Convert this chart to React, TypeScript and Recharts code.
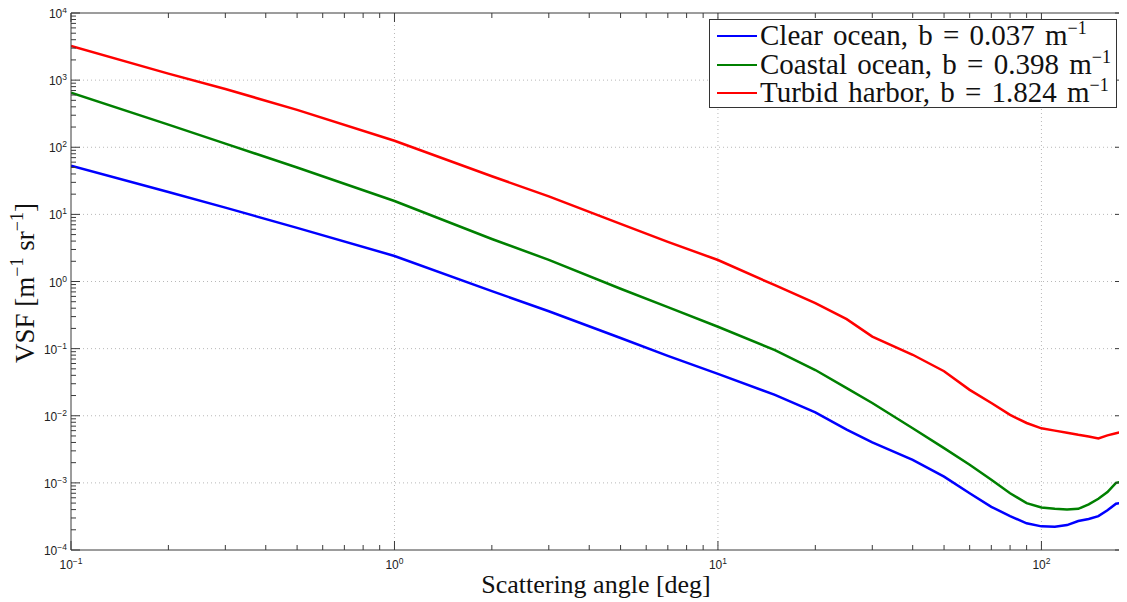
import React from 'react';
import { LineChart, Line, XAxis, YAxis, ReferenceLine, Legend } from 'recharts';

// Scattering angle [deg]
const angles = [0.1, 0.2, 0.3, 0.5, 1, 2, 3, 5, 7, 10, 15, 20, 25, 30, 40, 50, 60, 70, 80, 90, 100, 110, 120, 130, 140, 150, 160, 170, 180];
// VSF [m^-1 sr^-1]
const clearOcean = [53, 21.5, 12.6, 6.3, 2.4, 0.72, 0.36, 0.144, 0.078, 0.042, 0.0205, 0.0112, 0.0062, 0.004, 0.0022, 0.00124, 0.0007, 0.00044, 0.00032, 0.00025, 0.000225, 0.000222, 0.000235, 0.00027, 0.00029, 0.00032, 0.00039, 0.00049, 0.00051];
const coastalOcean = [650, 217, 113, 50, 15.8, 4.3, 2.1, 0.78, 0.415, 0.212, 0.095, 0.048, 0.0258, 0.0155, 0.0065, 0.0033, 0.00186, 0.00111, 0.0007, 0.0005, 0.00043, 0.00041, 0.0004, 0.00041, 0.00048, 0.00058, 0.00073, 0.001, 0.00105];
const turbidHarbor = [3220, 1250, 738, 360, 125, 37, 18.5, 7.2, 3.9, 2.09, 0.88, 0.476, 0.275, 0.151, 0.081, 0.046, 0.0243, 0.0155, 0.0103, 0.0078, 0.0065, 0.006, 0.0056, 0.0052, 0.0049, 0.0046, 0.0051, 0.0055, 0.0058];

const seriesNames = ['Clear ocean, b = 0.037 m', 'Coastal ocean, b = 0.398 m', 'Turbid harbor, b = 1.824 m'];
const seriesKeys = ['clear', 'coastal', 'turbid'];
const seriesColors = ['#0000ff', '#008000', '#ff0000'];

const xMajor = [0.1, 1, 10, 100];
const xMajorExp = ['\u22121', '0', '1', '2'];
const xMinor = [0.2, 0.3, 0.4, 0.5, 0.6, 0.7, 0.8, 0.9, 2, 3, 4, 5, 6, 7, 8, 9, 20, 30, 40, 50, 60, 70, 80, 90];
const yMajor = [1e-4, 1e-3, 1e-2, 1e-1, 1, 10, 100, 1000, 10000];
const yMajorExp = ['\u22124', '\u22123', '\u22122', '\u22121', '0', '1', '2', '3', '4'];
const mantissas = [2, 3, 4, 5, 6, 7, 8, 9];
const yDecades = [1e-4, 1e-3, 1e-2, 1e-1, 1, 10, 100, 1000];
const yMinor = yDecades.flatMap((d) => mantissas.map((m) => m * d));

const data = angles.map((a, i) => ({
  angle: a,
  clear: clearOcean[i],
  coastal: coastalOcean[i],
  turbid: turbidHarbor[i],
}));

const W = 1119;
const H = 594;
const XH = 30;
const YW = 30;
const M = { top: 5, right: 3, bottom: 52 - XH, left: 63 - YW };
const PL = 63;
const PT = 5;
const PR = W - 3;
const PB = H - 52;
const AX = '#3a3a3a';
const TICK_FONT = '"Liberation Sans", Arial, sans-serif';
const SERIF = '"Liberation Serif", "Times New Roman", serif';

const isMajor = (arr: number[], v: number) => arr.findIndex((m) => Math.abs(m - v) / m < 1e-6);

const XTick = (props: any) => {
  const { x, payload } = props;
  const v = payload.value;
  const mi = isMajor(xMajor, v);
  const len = mi >= 0 ? 9 : 5;
  return (
    <g>
      <line x1={x} x2={x} y1={PB} y2={PB - len} stroke={AX} strokeWidth={1} />
      <line x1={x} x2={x} y1={PT} y2={PT + len} stroke={AX} strokeWidth={1} />
      {mi >= 0 && (
        <text x={x} y={PB + 19} textAnchor="middle" fontFamily={TICK_FONT} fontSize={12} fill="#222">
          10
          <tspan dy={-5} fontSize={8.5}>{xMajorExp[mi]}</tspan>
        </text>
      )}
    </g>
  );
};

const YTick = (props: any) => {
  const { y, payload } = props;
  const v = payload.value;
  const mi = isMajor(yMajor, v);
  const len = mi >= 0 ? 9 : 5;
  return (
    <g>
      <line x1={PL} x2={PL + len} y1={y} y2={y} stroke={AX} strokeWidth={1} />
      <line x1={PR} x2={PR - len} y1={y} y2={y} stroke={AX} strokeWidth={1} />
      {mi >= 0 && (
        <text x={PL - 4} y={y + 5} textAnchor="end" fontFamily={TICK_FONT} fontSize={12} fill="#222">
          10
          <tspan dy={-5} fontSize={8.5}>{yMajorExp[mi]}</tspan>
        </text>
      )}
    </g>
  );
};

const supStyle: React.CSSProperties = { fontSize: 18, verticalAlign: 0, position: 'relative', top: -11, lineHeight: 0 };

const LegendBox = () => (
  <div
    style={{
      position: 'relative',
      width: 406,
      height: 87,
      border: '1px solid #333',
      background: '#fff',
      fontFamily: SERIF,
      fontSize: 29,
      color: '#111',
    }}
  >
    {seriesNames.map((name, i) => (
      <div
        key={name}
        style={{ position: 'absolute', left: 0, top: 1 + i * 28.5, height: 28, lineHeight: '28px', whiteSpace: 'nowrap' }}
      >
        <span
          style={{
            position: 'absolute',
            left: 7,
            top: 14,
            width: 40,
            height: 2,
            background: seriesColors[i],
          }}
        />
        <span style={{ position: 'absolute', left: 50, top: 0, wordSpacing: 3 }}>
          {name}
          <sup style={supStyle}>{'\u22121'}</sup>
        </span>
      </div>
    ))}
  </div>
);

export default function App() {
  return (
    <div style={{ position: 'relative', width: W, height: H }}>
      <LineChart width={W} height={H} data={data} margin={M} style={{ overflow: 'visible' }}>
        <XAxis
          dataKey="angle"
          type="number"
          scale="log"
          domain={[0.1, 180]}
          allowDataOverflow
          ticks={[...xMajor, ...xMinor]}
          interval={0}
          height={XH}
          axisLine={{ stroke: AX, strokeWidth: 1 }}
          tickLine={false}
          tick={<XTick />}
        />
        <YAxis
          type="number"
          scale="log"
          domain={[1e-4, 1e4]}
          allowDataOverflow
          ticks={[...yMajor, ...yMinor]}
          interval={0}
          width={YW}
          axisLine={{ stroke: AX, strokeWidth: 1 }}
          tickLine={false}
          tick={<YTick />}
        />
        {xMajor.slice(1).map((v) => (
          <ReferenceLine key={'gx' + v} x={v} stroke="#b8b8b8" strokeDasharray="1 3" />
        ))}
        {yMajor.slice(1, -1).map((v) => (
          <ReferenceLine key={'gy' + v} y={v} stroke="#b8b8b8" strokeDasharray="1 3" />
        ))}
        <ReferenceLine y={1e4} stroke={AX} ifOverflow="visible" />
        <ReferenceLine x={180} stroke={AX} ifOverflow="visible" />
        {seriesKeys.map((k, i) => (
          <Line
            key={k}
            type="linear"
            dataKey={k}
            name={seriesNames[i]}
            stroke={seriesColors[i]}
            strokeWidth={2.5}
            dot={false}
            isAnimationActive={false}
          />
        ))}
        <Legend
          layout="horizontal"
          verticalAlign="middle"
          align="center"
          wrapperStyle={{ left: 701, top: 11, width: 408, height: 89 }}
          content={() => <LegendBox />}
        />
      </LineChart>
      <div
        style={{
          position: 'absolute',
          left: 388,
          top: 562,
          width: 400,
          textAlign: 'center',
          fontFamily: SERIF,
          fontSize: 26,
          lineHeight: '30px',
          color: '#111',
        }}
      >
        Scattering angle [deg]
      </div>
      <div
        style={{
          position: 'absolute',
          left: 17 - 150,
          top: 275 - 15,
          width: 300,
          height: 30,
          textAlign: 'center',
          fontFamily: SERIF,
          fontSize: 27,
          lineHeight: '30px',
          color: '#111',
          transform: 'rotate(-90deg)',
          whiteSpace: 'nowrap',
        }}
      >
        VSF [m<sup style={supStyle}>{'\u22121'}</sup> sr<sup style={supStyle}>{'\u22121'}</sup>]
      </div>
    </div>
  );
}
